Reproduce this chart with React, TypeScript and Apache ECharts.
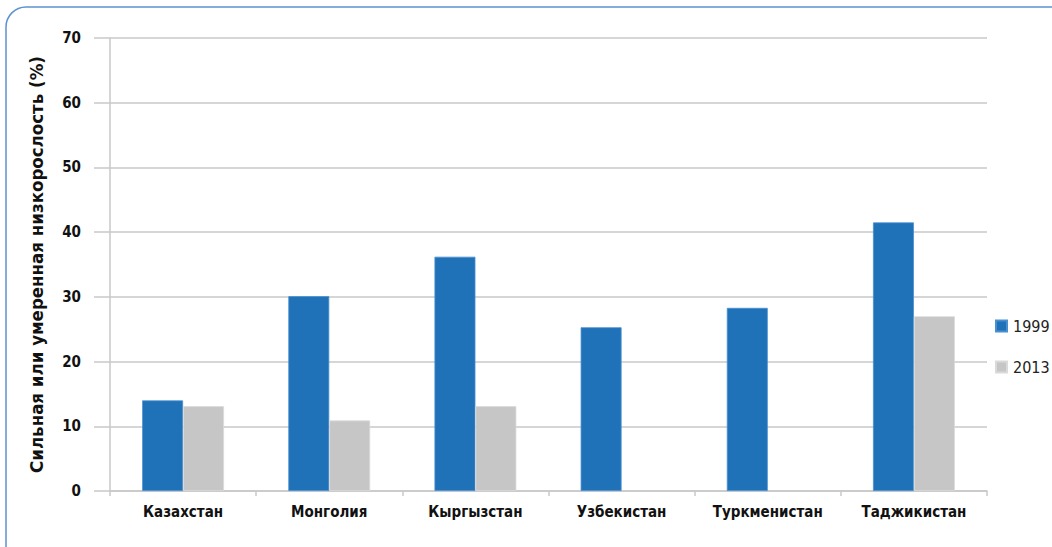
import React, { useEffect, useRef } from "react";
import * as echarts from "echarts";

const categories = ["Казахстан", "Монголия", "Кыргызстан", "Узбекистан", "Туркменистан", "Таджикистан"];
const values1999 = [14.0, 30.1, 36.2, 25.3, 28.3, 41.5];
const values2013: (number | null)[] = [13.1, 10.9, 13.1, null, null, 27.0];
const seriesNames = ["1999", "2013"];
const yTitle = "Сильная или умеренная низкорослость (%)";

const FONT = "'DejaVu Sans Condensed', 'Liberation Sans Narrow', sans-serif";

export default function App() {
  const ref = useRef<HTMLDivElement>(null);
  useEffect(() => {
    if (!ref.current) return;
    const chart = echarts.init(ref.current, null, { renderer: "svg" });
    chart.setOption({
      animation: false,
      backgroundColor: "#ffffff",
      textStyle: { fontFamily: FONT },
      graphic: [
        {
          type: "rect",
          shape: { x: 6, y: 7, width: 1100, height: 600, r: [20, 0, 0, 0] },
          style: { fill: "none", stroke: "#5b93cf", lineWidth: 1.5 },
          silent: true,
          z: -10,
        },
      ],
      grid: { left: 110, right: 65, top: 38, bottom: 56 },
      legend: {
        orient: "vertical",
        left: 990,
        top: 313,
        itemWidth: 11,
        itemHeight: 11,
        itemGap: 25,
        icon: "rect",
        data: seriesNames,
        textStyle: { fontFamily: FONT, fontSize: 16, color: "#222", padding: [0, 0, 0, 1] },
      },
      xAxis: {
        type: "category",
        data: categories,
        axisLine: { lineStyle: { color: "#c8c8c8", width: 1.5 } },
        axisTick: { show: true, length: 5, lineStyle: { color: "#c8c8c8", width: 1.5 } },
        axisLabel: { fontFamily: FONT, fontSize: 15, fontWeight: "bold", color: "#111", margin: 13 },
      },
      yAxis: {
        type: "value",
        min: 0,
        max: 70,
        interval: 10,
        name: yTitle,
        nameLocation: "middle",
        nameGap: 64,
        nameRotate: 90,
        nameTextStyle: { fontFamily: FONT, fontSize: 18.5, fontWeight: "bold", color: "#111" },
        axisLine: { show: true, lineStyle: { color: "#c8c8c8", width: 1.5 } },
        axisTick: { show: true, length: 16, lineStyle: { color: "#c8c8c8", width: 1.5 } },
        axisLabel: { fontFamily: FONT, fontSize: 15, fontWeight: "bold", color: "#111", margin: 29 },
        splitLine: { lineStyle: { color: "#c8c8c8", width: 1.5 } },
      },
      series: [
        {
          name: seriesNames[0],
          type: "bar",
          data: values1999,
          barGap: "0%",
          barCategoryGap: "44%",
          itemStyle: { color: "#1f71b8", borderColor: "#4a8fd0", borderWidth: 0.8 },
        },
        {
          name: seriesNames[1],
          type: "bar",
          data: values2013,
          itemStyle: { color: "#c6c6c6", borderColor: "#dadada", borderWidth: 0.8 },
        },
      ],
    });
    return () => chart.dispose();
  }, []);
  return (
    <div
      ref={ref}
      style={{ position: "fixed", left: 0, top: 0, width: 1052, height: 547 }}
    />
  );
}
